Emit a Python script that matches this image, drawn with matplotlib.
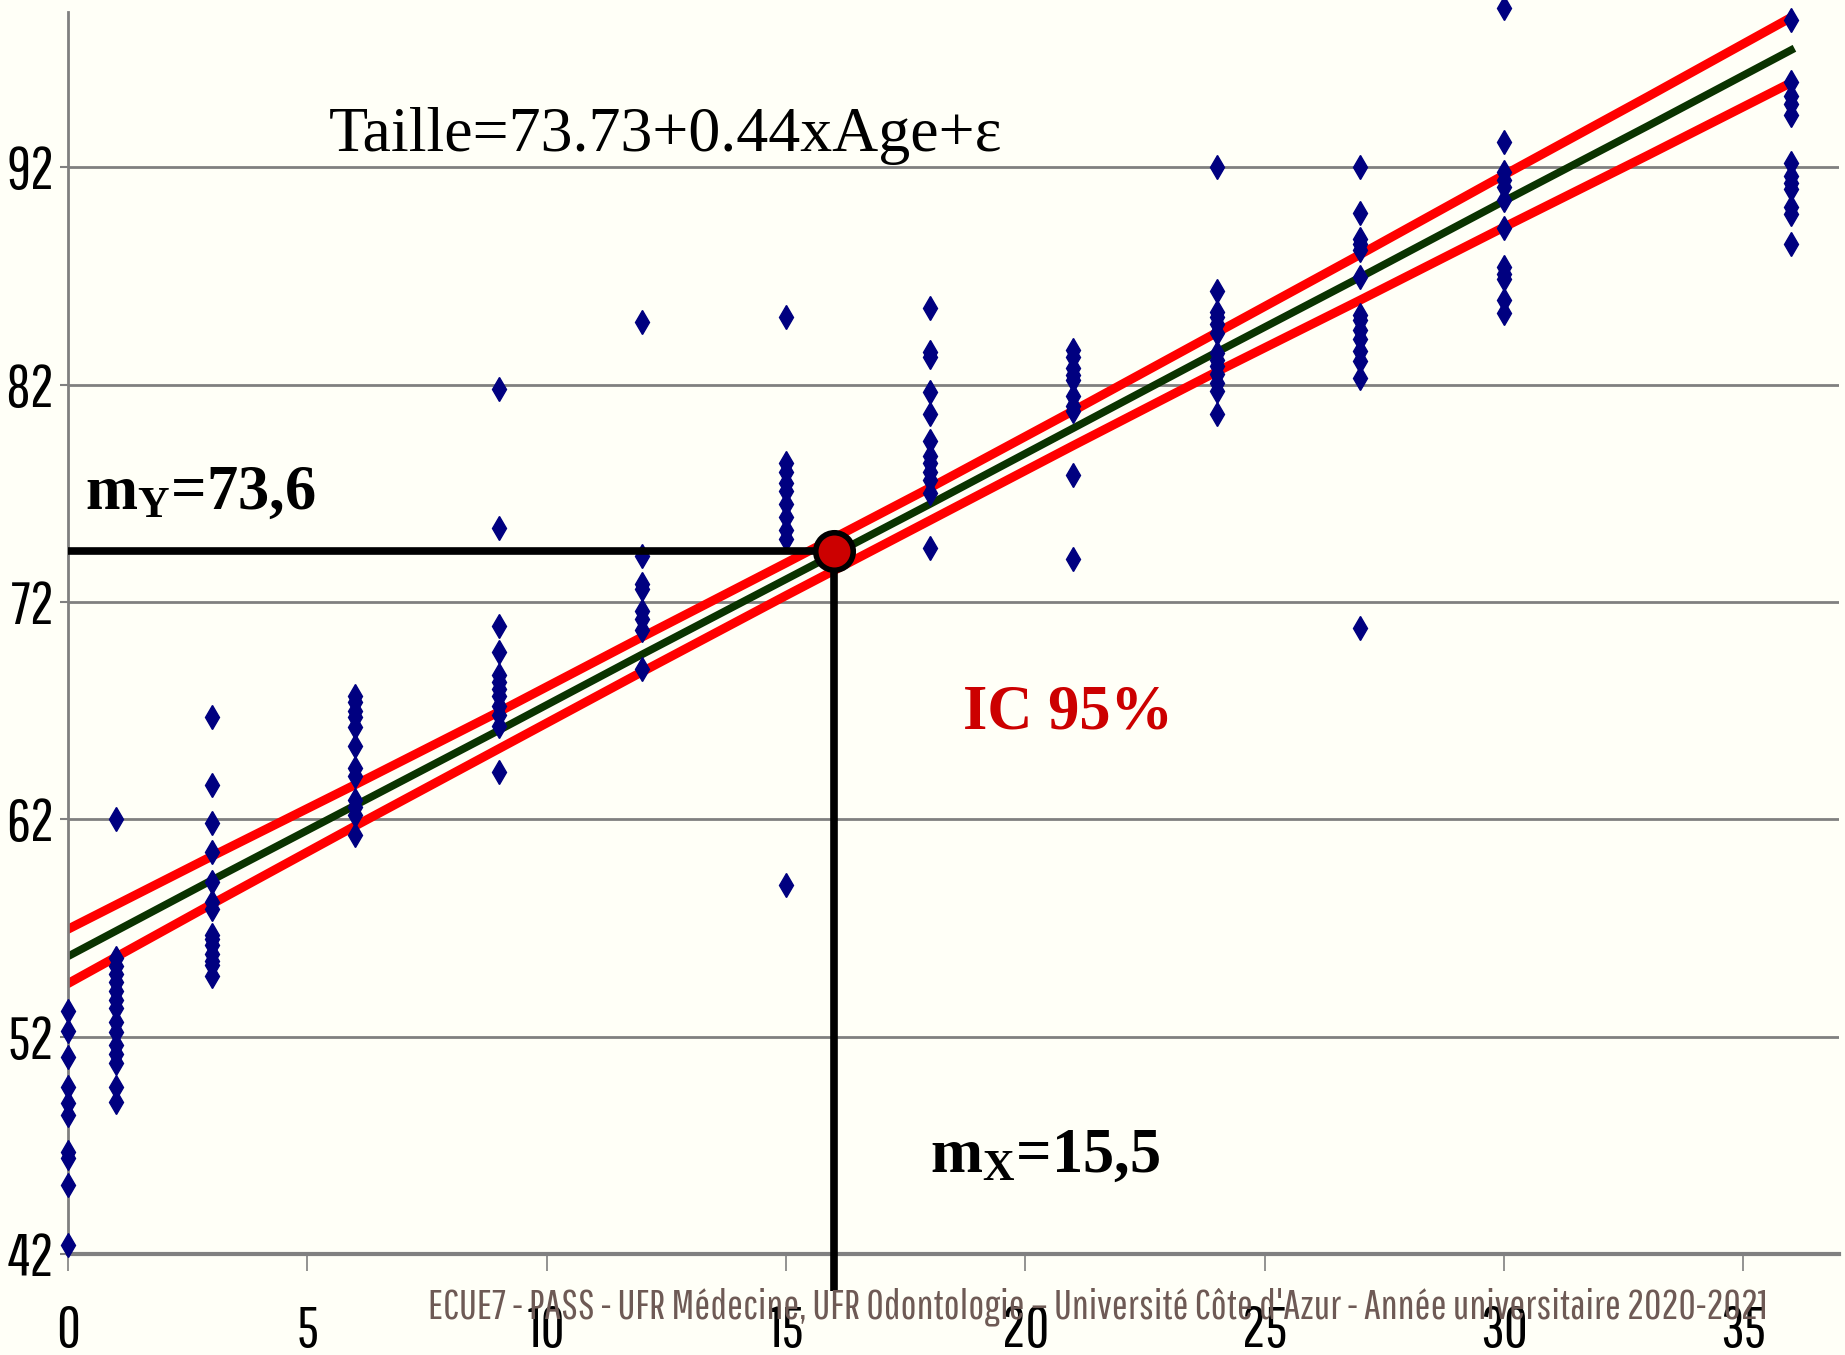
import numpy as np
import matplotlib.pyplot as plt

# scatter data: age (months) / height (cm), read column by column
age_0 = [53.2, 52.25, 51.05, 49.7, 48.95, 48.4, 46.7, 46.4, 45.2, 42.4]
age_1 = [62.0, 55.6, 55.25, 54.9, 54.5, 54.1, 53.7, 53.3, 52.7, 52.2, 51.6, 51.2, 50.8, 49.7, 49.0]
age_3 = [66.7, 63.6, 61.85, 60.5, 59.1, 58.2, 57.9, 56.7, 56.5, 56.2, 55.8, 55.5, 55.3, 54.8]
age_6 = [67.7, 67.4, 67.0, 66.7, 66.25, 65.4, 64.35, 64.0, 62.9, 62.55, 62.2, 61.3]
age_9 = [81.8, 75.4, 70.9, 69.7, 68.65, 68.3, 68.0, 67.7, 67.2, 66.8, 66.3, 64.2]
age_12 = [84.9, 74.1, 72.85, 72.6, 71.6, 71.2, 70.7, 68.9]
age_15 = [85.1, 78.4, 78.0, 77.5, 77.1, 76.5, 75.9, 75.3, 74.9, 59.0]
age_18 = [85.55, 83.5, 83.3, 81.65, 80.65, 79.4, 78.7, 78.4, 78.0, 77.6, 77.0, 74.5]
age_21 = [83.6, 83.3, 82.75, 82.45, 82.2, 81.5, 81.0, 80.8, 77.85, 74.0]
age_24 = [92.0, 86.3, 85.35, 85.1, 84.8, 84.4, 83.45, 83.15, 82.85, 82.5, 82.1, 81.7, 80.65]
age_27 = [92.0, 89.9, 88.7, 88.5, 88.2, 86.95, 85.2, 85.0, 84.5, 84.1, 83.55, 83.1, 82.3, 70.8]
age_30 = [99.35, 93.15, 91.8, 91.4, 91.1, 90.5, 89.2, 87.4, 87.1, 86.85, 85.9, 85.3]
age_36 = [98.8, 95.95, 95.3, 94.9, 94.4, 92.2, 91.6, 91.3, 91.0, 90.2, 89.85, 88.5]

ages = [0, 1, 3, 6, 9, 12, 15, 18, 21, 24, 27, 30, 36]
columns = [age_0, age_1, age_3, age_6, age_9, age_12, age_15, age_18,
           age_21, age_24, age_27, age_30, age_36]

# regression line and 95% band
x_line = [0, 3, 6, 9, 12, 15, 18, 21, 24, 27, 30, 33, 36]
y_fit = [55.7, 59.2, 62.65, 66.1, 69.6, 73.05, 76.5, 80.0, 83.5, 86.95, 90.45, 93.9, 97.4]
y_up = [56.95, 60.3, 63.6, 66.95, 70.4, 73.8, 77.25, 80.8, 84.4, 88.0, 91.65, 95.25, 98.9]
y_low = [54.45, 58.1, 61.7, 65.25, 68.8, 72.3, 75.75, 79.2, 82.6, 85.9, 89.25, 92.55, 95.9]

# mean point as drawn
mean_x = 16.0
mean_y = 74.35

xticks = [0, 5, 10, 15, 20, 25, 30, 35]
xtick_labels = ['0', '5', '10', '15', '20', '25', '30', '35']
yticks = [42, 52, 62, 72, 82, 92]
ytick_labels = ['42', '52', '62', '72', '82', '92']

bg = '#FFFFF7'
grey = '#808080'
narrow = ['Pathway Gothic One', 'Archivo Narrow', 'Roboto Condensed', 'DejaVu Sans']

plt.rcParams['mathtext.fontset'] = 'custom'
plt.rcParams['mathtext.rm'] = 'Liberation Serif:bold'
plt.rcParams['mathtext.it'] = 'Liberation Serif:bold'
plt.rcParams['mathtext.bf'] = 'Liberation Serif:bold'

fig = plt.figure(figsize=(18.45, 13.55), dpi=100, facecolor=bg)
ax = fig.add_axes([0.0369, 0.0745, 0.9598, 0.9166])
ax.set_facecolor(bg)

# band + fit
ax.plot(x_line, y_up, color='#FF0000', lw=6.5, zorder=2)
ax.plot(x_line, y_low, color='#FF0000', lw=6.5, zorder=2)
ax.plot(x_line, y_fit, color='#0A3300', lw=5.5, zorder=2)

# points
for a, col in zip(ages, columns):
    ax.plot([a] * len(col), col, 'd', color='#000080', ms=12.5,
            ls='none', zorder=3, clip_on=False)

# mean lines and point
ax.plot([0, mean_x], [mean_y, mean_y], color='black', lw=5.5,
        solid_capstyle='butt', zorder=4)
ax.plot([mean_x, mean_x], [mean_y, 40.3], color='black', lw=5.5,
        solid_capstyle='butt', zorder=4, clip_on=False)
ax.plot(mean_x, mean_y, 'o', ms=27, mfc='#CC0000', mec='black', mew=4, zorder=5)

ax.set_xlim(0, 37)
ax.set_ylim(42, 99.15)

ax.set_xticks(xticks)
ax.set_xticklabels(xtick_labels, family=narrow, fontsize=42)
ax.set_yticks(yticks)
ax.set_yticklabels(ytick_labels, family=narrow, fontsize=43)
ax.tick_params(axis='x', direction='out', length=12, width=1.2, color=grey, pad=24)
ax.tick_params(axis='y', direction='out', length=6, width=1.5, color=grey, pad=4)

ax.yaxis.grid(True, color=grey, lw=2)
ax.set_axisbelow(True)
for s in ['top', 'right']:
    ax.spines[s].set_visible(False)
ax.spines['left'].set_color(grey)
ax.spines['left'].set_linewidth(2)
ax.spines['bottom'].set_color(grey)
ax.spines['bottom'].set_linewidth(3)

# annotations
ax.text(5.45, 92.75, 'Taille=73.73+0.44xAge+ε', family='Liberation Serif',
        fontsize=46, va='baseline', ha='left')
ax.text(0.36, 76.3, r'm$_{\mathrm{Y}}$=73,6', family='Liberation Serif',
        fontweight='bold', fontsize=45, va='baseline', ha='left')
ax.text(18.0, 45.8, r'm$_{\mathrm{X}}$=15,5', family='Liberation Serif',
        fontweight='bold', fontsize=45, va='baseline', ha='left')
ax.text(18.69, 66.2, 'IC 95%', family='Liberation Serif', fontweight='bold',
        fontsize=45, color='#CC0000', va='baseline', ha='left')

fig.text(0.595, 0.036,
         "ECUE7 - PASS - UFR Médecine, UFR Odontologie – Université Côte d'Azur - Année universitaire 2020-2021",
         family=narrow, fontsize=30.5, color='#6E5A55', ha='center', va='center')

fig.savefig('out.png', dpi=100, facecolor=bg)
